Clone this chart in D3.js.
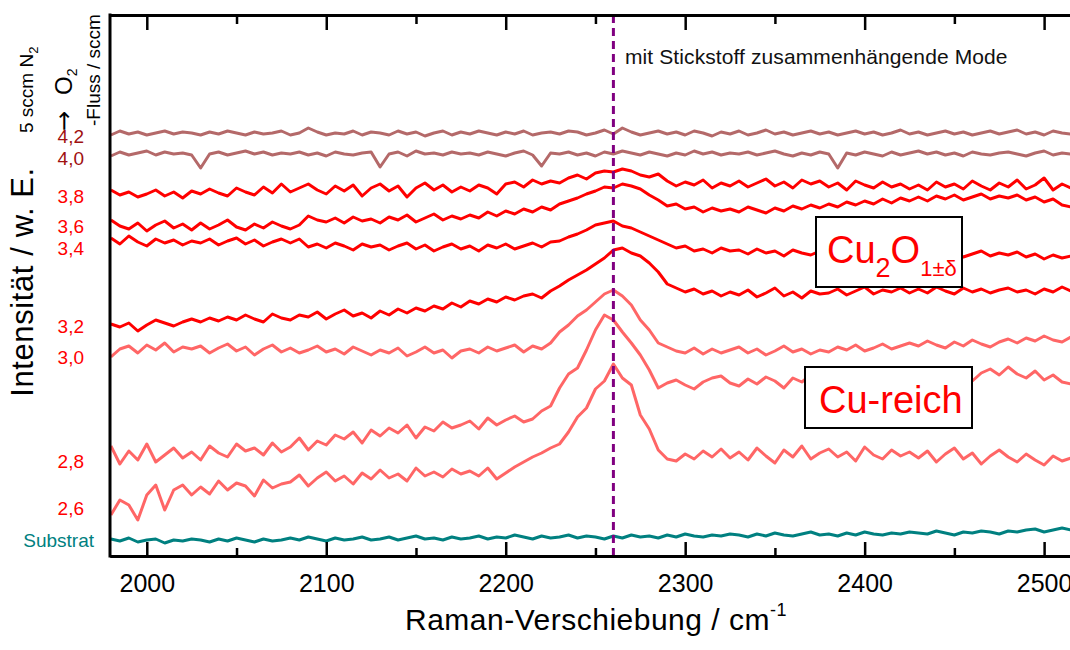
<!DOCTYPE html>
<html lang="de">
<head>
<meta charset="utf-8">
<title>Raman-Spektren</title>
<script src="https://cdn.jsdelivr.net/npm/d3@7"></script>
<style>
  html, body { margin: 0; padding: 0; background: #fff; overflow: hidden; }
  svg { display: block; font-family: "Liberation Sans", Arial, sans-serif; }
</style>
</head>
<body>
<svg id="chart" width="1070" height="650"></svg>
<script>
// ── Data ──────────────────────────────────────────────────────────────────
// Raman shift grid (cm^-1): first point and step
const WN_START = 1980;
const WN_STEP = 5;

// O2 flow (sccm) for each spectrum, top to bottom
const flowLabels = ['4,2', '4,0', '3,8', '3,6', '3,4', '3,2', '3,0', '2,8', '2,6', 'Substrat'];

// stacked intensities, arbitrary units (w. E.)
const spec42 = [421,425,422,424,421,423,425,422,424,423, 421,424,422,425,423,421,424,422,423,425,
  421,423,428,424,421,423,422,425,421,424, 423,421,425,422,424,420,423,425,421,424,
  422,425,423,421,424,422,425,421,423,424, 422,425,424,421,423,426,422,428,424,421,
  423,425,422,424,421,425,423,420,424,422, 425,421,423,426,422,424,421,423,425,422,
  424,421,423,425,422,424,421,423,426,422, 424,421,423,425,422,424,421,423,425,422,
  424,426,422,424,421,425,423,422];
const spec40 = [400,404,401,403,405,401,404,402,403,401, 388,402,404,401,403,405,402,404,401,403,
  402,404,401,403,400,404,402,401,403,404, 389,402,404,400,405,402,403,401,404,402,
  403,401,404,402,400,403,405,401,390,403, 402,404,401,403,400,404,402,405,403,401,
  404,402,400,403,401,405,402,404,401,403, 402,404,401,403,405,402,400,403,401,404,
  402,388,403,401,404,402,400,404,401,403, 405,402,404,401,403,400,404,402,401,403,
  404,402,400,403,405,401,403,402];
const spec38 = [366,361,364,359,362,366,360,364,358,365, 362,367,363,360,368,364,361,369,363,372,
  364,368,372,366,362,370,365,371,360,368, 372,365,370,359,368,373,366,371,364,369,
  365,371,368,362,372,374,369,376,372,375, 373,378,381,377,383,385,384,387,385,381,
  379,382,375,370,374,371,376,368,373,370, 375,369,373,377,370,374,368,376,372,375,
  369,373,366,375,371,368,374,369,372,367, 371,366,374,369,372,367,375,370,366,373,
  369,376,367,371,378,366,372,368];
const spec36 = [336,330,327,333,325,331,335,328,332,326, 333,327,331,336,329,326,332,328,334,330,
  327,331,340,336,334,338,333,339,335,337, 333,339,336,341,334,338,342,336,340,337,
  341,338,344,340,345,342,347,344,349,346, 352,355,358,362,365,369,368,372,370,367,
  361,356,350,352,347,349,344,348,345,347, 344,349,346,343,348,345,350,347,351,348,
  352,349,354,351,355,352,357,353,358,355, 359,355,360,357,361,356,359,362,357,360,
  358,361,356,359,354,357,351,349];
const spec34 = [318,312,320,314,310,317,313,316,311,315, 313,317,311,315,318,312,316,310,314,317,
  313,317,309,312,308,313,310,306,312,309, 311,306,310,313,307,311,305,309,312,307,
  310,305,311,308,312,307,310,313,309,314, 315,319,322,326,331,333,335,330,328,324,
  320,316,312,308,310,305,307,303,308,305, 306,302,307,303,305,300,306,303,301,305,
  302,298,304,300,297,303,299,301,296,300, 302,298,303,300,304,299,302,305,300,303,
  301,304,299,302,297,301,298,300];
const spec32 = [232,229,233,225,231,236,233,230,234,237, 234,238,235,239,236,241,237,234,242,238,
  236,241,239,244,237,242,246,240,243,238, 245,241,247,243,248,245,250,247,253,249,
  255,252,257,254,259,256,260,262,258,265, 270,276,281,286,292,298,306,308,303,300,
  293,284,272,268,264,267,262,265,260,264, 261,266,259,263,268,260,264,258,265,262,
  263,267,261,265,269,262,266,264,268,263, 267,263,269,265,262,268,264,267,263,266,
  268,264,266,262,267,264,269,265];
const spec30 = [199,207,210,203,211,206,213,204,209,207, 210,203,208,212,205,209,201,207,211,204,
  208,203,206,210,204,207,202,209,205,201, 206,203,208,200,204,209,203,206,198,205,
  207,203,209,205,208,211,204,210,207,213, 224,231,240,246,254,262,266,260,251,236,
  226,213,209,205,203,208,202,207,203,206, 209,203,207,201,205,210,204,207,202,206,
  204,209,206,211,205,208,212,207,210,213, 210,215,211,208,214,210,216,212,209,214,
  217,213,218,215,220,216,214,219];
const spec28 = [110,92,105,96,112,94,101,108,98,104, 96,110,103,99,112,105,108,101,113,104,
  109,118,106,115,111,121,117,124,113,126, 120,128,123,131,118,129,125,134,128,131,
  135,127,138,131,136,140,134,137,145,150, 168,182,188,206,226,241,236,224,213,201,
  186,168,173,176,171,167,174,178,180,173, 170,177,172,179,175,168,178,174,181,173,
  176,182,175,179,171,180,177,183,174,179, 182,176,184,178,186,180,175,183,187,181,
  189,182,178,185,176,181,174,172];
const spec26 = [41,56,51,36,61,71,46,66,71,61, 69,62,75,66,73,70,60,76,68,72,
  74,81,70,78,84,75,80,72,83,77, 86,78,82,75,88,80,84,79,87,82,
  85,80,88,77,83,89,94,99,103,108, 112,124,139,148,167,175,192,178,171,141,
  127,106,97,95,102,97,105,99,107,98, 104,96,108,100,93,106,99,110,97,103,
  107,99,104,95,109,101,97,106,100,104, 98,105,94,102,108,97,103,92,100,106,
  99,94,102,96,91,100,95,98];
const specSubstrat = [17,15,18,14,16,17,13,16,15,17, 16,14,17,15,18,16,14,17,15,16,
  18,16,19,17,15,18,16,17,19,16, 17,19,16,18,20,17,18,16,19,17,
  18,20,17,19,18,21,19,17,20,18, 19,21,18,20,19,17,20,18,21,19,
  20,18,21,19,22,20,19,21,20,22, 21,19,22,20,23,21,20,22,24,21,
  22,20,23,21,24,22,21,23,22,24, 23,22,25,23,21,24,23,25,24,22,
  25,24,26,27,24,26,28,26];

// sample group of each spectrum (drives colour)
const seriesGroup = ['oxid', 'oxid', 'cu2o', 'cu2o', 'cu2o', 'cu2o', 'cuRich', 'cuRich', 'cuRich', 'substrat'];

// x axis ticks and the nitrogen mode marker
const majorTicks = [2000, 2100, 2200, 2300, 2400, 2500];
const minorTicks = [2050, 2150, 2250, 2350, 2450];
const n2Mode = 2260;

// ── Styles & layout ───────────────────────────────────────────────────────
const LINE_COLORS = { oxid: '#b46969', cu2o: '#ff0000', cuRich: '#ff6666', substrat: '#008080' };
const LABEL_COLORS = { oxid: '#a01010', cu2o: '#ff0000', cuRich: '#ff0000', substrat: '#008080' };
const LABEL_BASE = [143, 165, 203, 233, 255, 333, 364, 468, 515, 547];

const FRAME = { left: 110, right: 1080, top: 15, bottom: 556 };

const svg = d3.select('#chart');

const x = d3.scaleLinear().domain([1979.5, 2520]).range([FRAME.left, FRAME.right]);
const y = d3.scaleLinear().domain([0, 540]).range([FRAME.bottom, FRAME.top + 1]);

const spectra = [spec42, spec40, spec38, spec36, spec34, spec32, spec30, spec28, spec26, specSubstrat];
const table = spectra.map((vals, k) => ({
  label: flowLabels[k],
  group: seriesGroup[k],
  points: vals.map((v, i) => ({ wn: WN_START + i * WN_STEP, v }))
}));

// ── Spectra ───────────────────────────────────────────────────────────────
const line = d3.line().x(d => x(d.wn)).y(d => y(d.v));

svg.append('defs').append('clipPath').attr('id', 'plot-clip')
  .append('rect')
  .attr('x', FRAME.left).attr('y', FRAME.top)
  .attr('width', FRAME.right - FRAME.left).attr('height', FRAME.bottom - FRAME.top);

svg.append('g').attr('clip-path', 'url(#plot-clip)')
  .selectAll('path')
  .data(table).join('path')
  .attr('d', d => line(d.points))
  .attr('fill', 'none')
  .attr('stroke', d => LINE_COLORS[d.group])
  .attr('stroke-width', 3)
  .attr('stroke-linejoin', 'round');

// dashed marker of the N-related mode
svg.append('line')
  .attr('x1', x(n2Mode)).attr('x2', x(n2Mode))
  .attr('y1', FRAME.top).attr('y2', FRAME.bottom)
  .attr('stroke', '#800080')
  .attr('stroke-width', 3)
  .attr('stroke-dasharray', '8,5');

svg.append('text')
  .attr('x', 625).attr('y', 64)
  .attr('font-size', 21)
  .attr('letter-spacing', 0.1)
  .attr('fill', '#111')
  .text('mit Stickstoff zusammenhängende Mode');

// ── Axes ──────────────────────────────────────────────────────────────────
const bottomAxis = svg.append('g')
  .attr('transform', `translate(0,${FRAME.bottom})`)
  .call(d3.axisBottom(x).tickValues(majorTicks).tickSize(-14).tickSizeOuter(0)
    .tickPadding(18).tickFormat(d3.format('d')));
svg.append('g')
  .attr('transform', `translate(0,${FRAME.bottom})`)
  .call(d3.axisBottom(x).tickValues(minorTicks).tickSize(-8).tickSizeOuter(0).tickFormat(''));
svg.append('g')
  .attr('transform', `translate(0,${FRAME.top})`)
  .call(d3.axisTop(x).tickValues(majorTicks).tickSize(-15).tickSizeOuter(0).tickFormat(''));
svg.append('g')
  .attr('transform', `translate(0,${FRAME.top})`)
  .call(d3.axisTop(x).tickValues(minorTicks).tickSize(-9).tickSizeOuter(0).tickFormat(''));

svg.selectAll('.domain').attr('stroke', '#000').attr('stroke-width', 3);
svg.selectAll('.tick line').attr('stroke', '#000').attr('stroke-width', 2.5);
bottomAxis.selectAll('.tick text')
  .attr('font-size', 25)
  .attr('font-family', '"Liberation Sans", Arial, sans-serif')
  .attr('fill', '#000');

// left spine
svg.append('line')
  .attr('x1', FRAME.left).attr('x2', FRAME.left)
  .attr('y1', FRAME.top - 1.5).attr('y2', FRAME.bottom + 1.5)
  .attr('stroke', '#000').attr('stroke-width', 3);

// ── Series labels (O2 flow) ───────────────────────────────────────────────
svg.append('g').selectAll('text')
  .data(table).join('text')
  .attr('x', d => d.group === 'substrat' ? 94 : 84)
  .attr('y', (d, i) => LABEL_BASE[i])
  .attr('text-anchor', 'end')
  .attr('font-size', 19)
  .attr('fill', d => LABEL_COLORS[d.group])
  .text(d => d.label);

// ── Axis titles ───────────────────────────────────────────────────────────
const xTitle = svg.append('text')
  .attr('x', 596).attr('y', 630)
  .attr('text-anchor', 'middle')
  .attr('font-size', 30)
  .attr('letter-spacing', 0.5)
  .attr('fill', '#000');
xTitle.append('tspan').text('Raman-Verschiebung / cm');
xTitle.append('tspan').attr('font-size', 18).attr('dy', -14).text('-1');

svg.append('text')
  .attr('transform', 'translate(33,282) rotate(-90)')
  .attr('text-anchor', 'middle')
  .attr('font-size', 31)
  .attr('letter-spacing', 0.6)
  .attr('fill', '#000')
  .text('Intensität / w. E.');

const n2Text = svg.append('text')
  .attr('transform', 'translate(33,133) rotate(-90)')
  .attr('font-size', 19).attr('fill', '#000');
n2Text.append('tspan').text('5 sccm N');
n2Text.append('tspan').attr('font-size', 13).attr('dy', 5).text('2');

const o2Text = svg.append('text')
  .attr('transform', 'translate(72,131) rotate(-90)')
  .attr('font-size', 24).attr('fill', '#000');
o2Text.append('tspan').attr('font-family', '"DejaVu Sans", sans-serif').attr('font-size', 24).text('→');
o2Text.append('tspan').attr('dx', 16).text('O');
o2Text.append('tspan').attr('font-size', 14).attr('dy', 5).text('2');

svg.append('text')
  .attr('transform', 'translate(100,126) rotate(-90)')
  .attr('font-size', 19).attr('fill', '#000')
  .text('-Fluss / sccm');

// ── Phase boxes ───────────────────────────────────────────────────────────
function phaseBox(x0, y0, w, h) {
  svg.append('rect')
    .attr('x', x0).attr('y', y0).attr('width', w).attr('height', h)
    .attr('fill', '#fff').attr('stroke', '#000').attr('stroke-width', 2);
}

phaseBox(816, 217, 146, 70);
const cu2o = svg.append('text')
  .attr('x', 827).attr('y', 263)
  .attr('font-size', 38).attr('fill', '#ff0000');
cu2o.append('tspan').text('Cu');
cu2o.append('tspan').attr('font-size', 27).attr('dy', 14).text('2');
cu2o.append('tspan').attr('font-size', 38).attr('dy', -14).text('O');
cu2o.append('tspan').attr('font-size', 22).attr('dy', 13).text('1±δ');

phaseBox(805, 367, 167, 61);
svg.append('text')
  .attr('x', 819).attr('y', 413)
  .attr('font-size', 38).attr('fill', '#ff0000')
  .text('Cu-reich');
</script>
</body>
</html>
